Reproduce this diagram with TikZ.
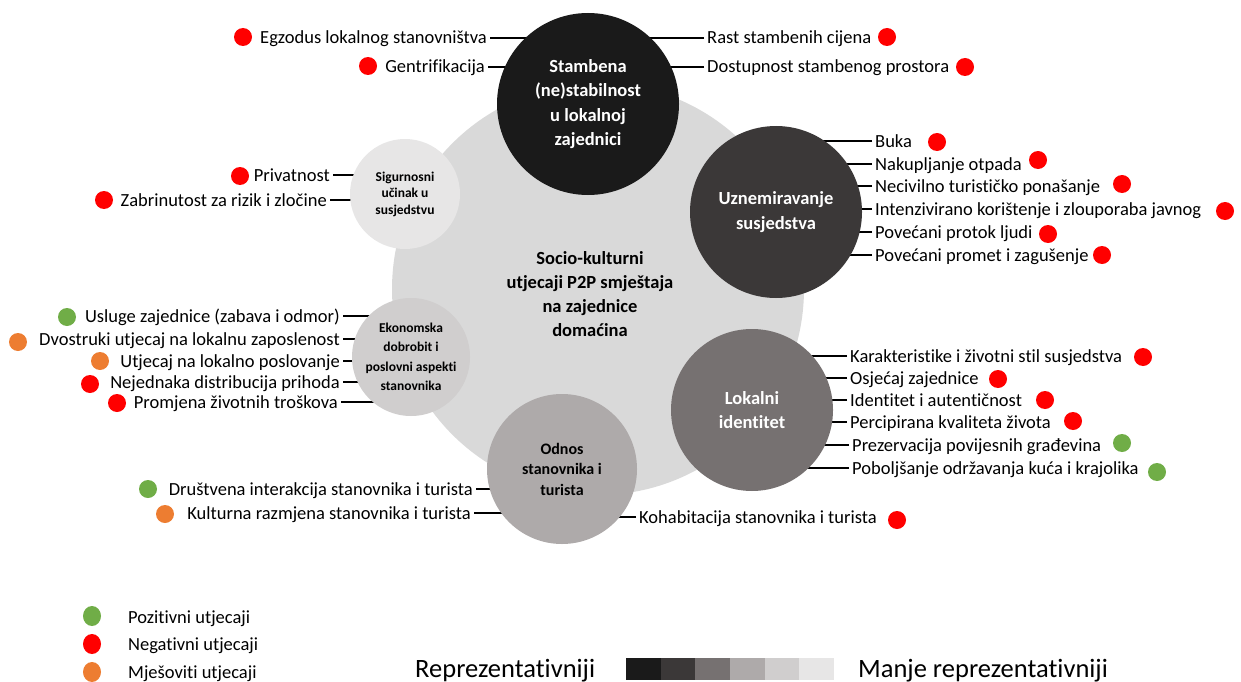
\documentclass[tikz,border=0pt]{standalone}
\usepackage{fontspec}
\setmainfont{Carlito}[RawFeature={-liga;-clig;-calt;-dlig}]
\usetikzlibrary{positioning, shapes.geometric}

\definecolor{tierA}{HTML}{1A1A1A}
\definecolor{tierB}{HTML}{3B3838}
\definecolor{tierC}{HTML}{767171}
\definecolor{tierD}{HTML}{AEAAAA}
\definecolor{tierE}{HTML}{D0CECE}
\definecolor{tierF}{HTML}{E7E6E6}
\definecolor{hub}{HTML}{D9D9D9}
\definecolor{neg}{HTML}{FF0000}
\definecolor{pos}{HTML}{70AD47}
\definecolor{mix}{HTML}{ED7D31}

\pgfdeclarelayer{hubplane}
\pgfdeclarelayer{links}
\pgfsetlayers{hubplane,links,main}

\begin{document}
\begin{tikzpicture}[x=1pt,y=-1pt,
    theme/.style={circle,inner sep=0pt,align=center,font=\bfseries\fontsize{18.5}{24.5}\selectfont},
    impact/.style={inner xsep=3pt,inner ysep=0pt,text height=12pt,text depth=0pt,font=\fontsize{18.5}{22}\selectfont},
    bullet/.style={circle,inner sep=0pt,minimum size=18pt},
    keydot/.style={ellipse,inner sep=0pt,minimum width=18pt,minimum height=20pt},
    leader/.style={line width=1.2pt}]
\useasboundingbox (0,0) rectangle (1241,682);

\begin{pgfonlayer}{hubplane}
  \node[circle,fill=hub,minimum size=412pt] (hub) at (598,289) {};
\end{pgfonlayer}
\node[align=center,font=\bfseries\fontsize{18.5}{24}\selectfont] (hubtxt) at (590,294)
  {Socio-kulturni\\utjecaji P2P smještaja\\na zajednice\\domaćina};

\node[theme,fill=tierA,text=white,minimum size=182pt] (stamb) at (588,104) {Stambena\\(ne)stabilnost\\u lokalnoj\\zajednici};
\node[theme,fill=tierB,text=white,minimum size=172pt] (uzn) at (776,212) {Uznemiravanje\\susjedstva};
\node[theme,fill=tierC,text=white,minimum size=162pt] (lok) at (752,410) {Lokalni\\identitet};
\node[theme,fill=tierD,minimum size=150pt,font=\bfseries\fontsize{16}{20.5}\selectfont] (odn) at (562,469) {Odnos\\stanovnika i\\turista};
\node[theme,fill=tierE,minimum size=118pt,font=\bfseries\fontsize{13.5}{19.5}\selectfont] (eko) at (411,357) {Ekonomska\\dobrobit i\\poslovni aspekti\\stanovnika};
\node[theme,fill=tierF,minimum size=110pt,font=\bfseries\fontsize{13.5}{16.5}\selectfont] (sig) at (405,194) {Sigurnosni\\učinak u\\susjedstvu};

\node[impact,anchor=east] (egz) at (490,38) {Egzodus lokalnog stanovništva};
\node[impact,anchor=east] (gen) at (488,67) {Gentrifikacija};
\node[impact,anchor=west] (rast) at (704,38) {Rast stambenih cijena};
\node[impact,anchor=west] (dost) at (704,67) {Dostupnost stambenog prostora};

\node[impact,anchor=east] (priv) at (333,175) {Privatnost};
\node[impact,anchor=east] (zabr) at (330,200) {Zabrinutost za rizik i zločine};

\node[impact,anchor=west] (buka) at (872,141) {Buka};
\node[impact,anchor=west] (otpad) at (872,164) {Nakupljanje otpada};
\node[impact,anchor=west] (necv) at (872,186) {Necivilno turističko ponašanje};
\node[impact,anchor=west] (intz) at (872,209) {Intenzivirano korištenje i zlouporaba javnog};
\node[impact,anchor=west] (protok) at (872,232) {Povećani protok ljudi};
\node[impact,anchor=west] (promet) at (872,255) {Povećani promet i zagušenje};

\node[impact,anchor=east] (usl) at (343,316) {Usluge zajednice (zabava i odmor)};
\node[impact,anchor=east] (dvo) at (343,339) {Dvostruki utjecaj na lokalnu zaposlenost};
\node[impact,anchor=east] (utj) at (343,361) {Utjecaj na lokalno poslovanje};
\node[impact,anchor=east] (nej) at (343,382) {Nejednaka distribucija prihoda};
\node[impact,anchor=east] (trosk) at (341,402) {Promjena životnih troškova};

\node[impact,anchor=west] (kar) at (847,356) {Karakteristike i životni stil susjedstva};
\node[impact,anchor=west] (osj) at (847,378) {Osjećaj zajednice};
\node[impact,anchor=west] (ident) at (847,400) {Identitet i autentičnost};
\node[impact,anchor=west] (perc) at (847,422) {Percipirana kvaliteta života};
\node[impact,anchor=west] (prez) at (849,445) {Prezervacija povijesnih građevina};
\node[impact,anchor=west] (pobo) at (849,468) {Poboljšanje održavanja kuća i krajolika};

\node[impact,anchor=east] (drus) at (476,489) {Društvena interakcija stanovnika i turista};
\node[impact,anchor=east] (kult) at (474,513) {Kulturna razmjena stanovnika i turista};
\node[impact,anchor=west] (koh) at (636,517) {Kohabitacija stanovnika i turista};

\begin{pgfonlayer}{links}
  \foreach \l in {egz,gen} \draw[leader] (\l.east) -- (\l.east -| stamb.center);
  \foreach \l in {rast,dost} \draw[leader] (\l.west) -- (\l.west -| stamb.center);
  \foreach \l in {priv,zabr} \draw[leader] (\l.east) -- (\l.east -| sig.center);
  \foreach \l in {buka,otpad,necv,intz,protok,promet} \draw[leader] (\l.west) -- (\l.west -| uzn.center);
  \foreach \l in {usl,dvo,utj,nej,trosk} \draw[leader] (\l.east) -- (\l.east -| eko.center);
  \foreach \l in {kar,osj,ident,perc,prez,pobo} \draw[leader] (\l.west) -- (\l.west -| lok.center);
  \foreach \l in {drus,kult} \draw[leader] (\l.east) -- (\l.east -| odn.center);
  \draw[leader] (koh.west) -- (koh.west -| odn.center);
\end{pgfonlayer}

\node[bullet,fill=neg] (egzdot) at (243,37) {};
\node[bullet,fill=neg] (gendot) at (368,66) {};
\node[bullet,fill=neg] (rastdot) at (887,37) {};
\node[bullet,fill=neg] (dostdot) at (965,67) {};
\node[bullet,fill=neg] (privdot) at (240,176) {};
\node[bullet,fill=neg] (zabrdot) at (104,200) {};
\node[bullet,fill=neg] (bukadot) at (937,142) {};
\node[bullet,fill=neg] (otpaddot) at (1038,160) {};
\node[bullet,fill=neg] (necvdot) at (1122,184) {};
\node[bullet,fill=neg] (intzdot) at (1225,211) {};
\node[bullet,fill=neg] (protokdot) at (1048,234) {};
\node[bullet,fill=neg] (prometdot) at (1102,255) {};
\node[bullet,fill=pos] (usldot) at (67,317) {};
\node[bullet,fill=mix] (dvodot) at (18,342) {};
\node[bullet,fill=mix] (utjdot) at (100,361) {};
\node[bullet,fill=neg] (nejdot) at (90,384) {};
\node[bullet,fill=neg] (troskdot) at (117,403) {};
\node[bullet,fill=neg] (kardot) at (1143,357) {};
\node[bullet,fill=neg] (osjdot) at (998,379) {};
\node[bullet,fill=neg] (identdot) at (1045,400) {};
\node[bullet,fill=neg] (percdot) at (1073,421) {};
\node[bullet,fill=pos] (prezdot) at (1122,443) {};
\node[bullet,fill=pos] (pobodot) at (1157,472) {};
\node[bullet,fill=pos] (drusdot) at (148,489) {};
\node[bullet,fill=mix] (kultdot) at (165,514) {};
\node[bullet,fill=neg] (kohdot) at (897,520) {};

\node[keydot,fill=pos] (keypos) at (92,616) {};
\node[keydot,fill=neg] (keyneg) at (92,644) {};
\node[keydot,fill=mix] (keymix) at (92,672) {};
\node[impact,anchor=west] (keypostxt) at (125,617) {Pozitivni utjecaji};
\node[impact,anchor=west] (keynegtxt) at (125,644) {Negativni utjecaji};
\node[impact,anchor=west] (keymixtxt) at (125,672) {Mješoviti utjecaji};

\node[inner sep=0pt,anchor=base west,font=\fontsize{26.5}{30}\selectfont] (more) at (415,677) {Reprezentativniji};
\foreach \c [count=\i] in {tierA,tierB,tierC,tierD,tierE,tierF}
  \fill[\c] (626+34.67*\i-34.67,658) rectangle ++(34.67,22);
\node[inner sep=0pt,anchor=base west,font=\fontsize{26.5}{30}\selectfont] (less) at (858,677) {Manje reprezentativniji};
\end{tikzpicture}
\end{document}
